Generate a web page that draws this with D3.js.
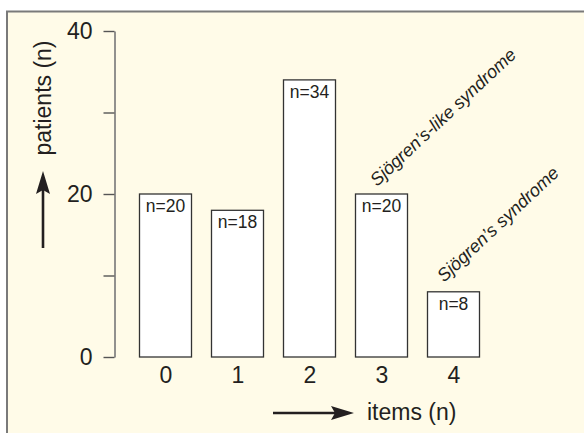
<!DOCTYPE html>
<html>
<head>
<meta charset="utf-8">
<script src="https://cdn.jsdelivr.net/npm/d3@7"></script>
<style>
  html, body { margin: 0; padding: 0; background: #ffffff; }
  svg { display: block; }
  text { font-family: "Liberation Sans", Arial, Helvetica, sans-serif; fill: #231f20; }
</style>
</head>
<body>
<svg id="chart" width="584" height="433"></svg>
<script>
const categories = ["0", "1", "2", "3", "4"];
const patients = [20, 18, 34, 20, 8];
const barLabels = ["n=20", "n=18", "n=34", "n=20", "n=8"];
const yTicks = [0, 10, 20, 30, 40];
const yTickLabels = { 0: "0", 20: "20", 40: "40" };
const yTitle = "patients (n)";
const xTitle = "items (n)";
const annotations = [
  { text: "Sjögren’s-like syndrome", category: "3" },
  { text: "Sjögren’s syndrome", category: "4" }
];

const svg = d3.select("#chart");

// panel background with top/left border
svg.append("rect").attr("x", 7).attr("y", 11).attr("width", 590).attr("height", 440)
  .attr("fill", "#fffbe8");
svg.append("path").attr("d", "M7,440V11.5H584")
  .attr("fill", "none").attr("stroke", "#7a7a7a").attr("stroke-width", 2);

const x = d3.scaleBand().domain(categories).range([129, 489])
  .paddingInner(20 / 72).paddingOuter(10 / 72);
const y = d3.scaleLinear().domain([0, 40]).range([357, 31]);

// y axis
const yAxis = d3.axisLeft(y).tickValues(yTicks).tickSize(11).tickSizeOuter(0)
  .tickPadding(11).tickFormat(d => yTickLabels[d] !== undefined ? yTickLabels[d] : "");
const ga = svg.append("g").attr("transform", "translate(114.5,0)").call(yAxis);
ga.select(".domain").attr("stroke", "#777").attr("stroke-width", 1.6);
ga.selectAll(".tick line").attr("stroke", "#555").attr("stroke-width", 1.4);
ga.selectAll(".tick text").attr("font-size", 23).attr("fill", "#231f20")
  .attr("font-family", "Liberation Sans, Arial, sans-serif");

// bars
svg.append("g").selectAll("rect").data(patients).join("rect")
  .attr("x", (d, i) => x(categories[i]) + 0.5)
  .attr("y", d => y(d))
  .attr("width", x.bandwidth())
  .attr("height", d => y(0) - y(d))
  .attr("fill", "#ffffff")
  .attr("stroke", "#333")
  .attr("stroke-width", 1.3);

// n labels
svg.append("g").selectAll("text").data(patients).join("text")
  .attr("x", (d, i) => x(categories[i]) + x.bandwidth() / 2 + 0.5)
  .attr("y", d => y(d) + 18)
  .attr("text-anchor", "middle")
  .attr("font-size", 17.5)
  .text((d, i) => barLabels[i]);

// x category labels
svg.append("g").selectAll("text").data(categories).join("text")
  .attr("x", d => x(d) + x.bandwidth() / 2 + 1)
  .attr("y", 383)
  .attr("text-anchor", "middle")
  .attr("font-size", 23)
  .text(d => d);

// rotated annotations
svg.append("g").selectAll("text").data(annotations).join("text")
  .attr("transform", (d, i) => {
    const idx = categories.indexOf(d.category);
    const cx = x(d.category) + x.bandwidth() / 2;
    const top = y(patients[idx]);
    const px = cx + (i === 1 ? -9 : -4);
    const py = top - (i === 1 ? 9 : 7);
    return `translate(${px},${py}) rotate(-43)`;
  })
  .attr("font-size", 18)
  .attr("font-style", "italic")
  .text(d => d.text);

// y title + arrow
svg.append("text")
  .attr("transform", "translate(51,98) rotate(-90)")
  .attr("text-anchor", "middle")
  .attr("font-size", 23)
  .text(yTitle);
svg.append("line").attr("x1", 43).attr("x2", 43).attr("y1", 248).attr("y2", 185)
  .attr("stroke", "#231f20").attr("stroke-width", 2.6);
svg.append("path").attr("d", "M43,171L50,194L43,190L36,194Z").attr("fill", "#231f20");

// x title + arrow
svg.append("line").attr("x1", 273).attr("x2", 340).attr("y1", 413).attr("y2", 413)
  .attr("stroke", "#231f20").attr("stroke-width", 2.6);
svg.append("path").attr("d", "M354,413L331,406L335,413L331,420Z").attr("fill", "#231f20");
svg.append("text")
  .attr("x", 367).attr("y", 420)
  .attr("font-size", 23)
  .text(xTitle);
</script>
</body>
</html>
